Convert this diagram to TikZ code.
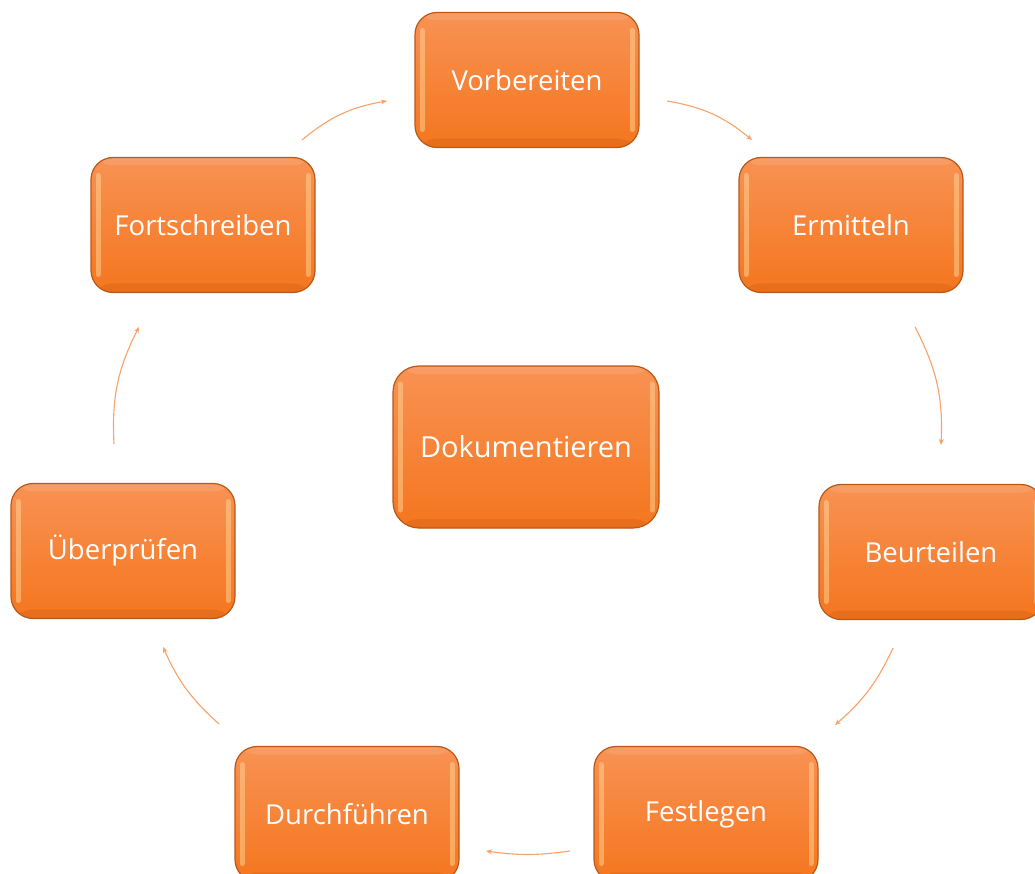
\documentclass[tikz,border=0pt]{standalone}
\usepackage{fontspec}
\setmainfont{Open Sans}
\usetikzlibrary{calc,arrows.meta}
\definecolor{orTop}{RGB}{248,146,84}
\definecolor{orBot}{RGB}{245,118,30}
\definecolor{orBorder}{RGB}{185,88,25}
\definecolor{orHl}{RGB}{255,214,150}
\definecolor{orDark}{RGB}{200,90,20}
\definecolor{arrowOr}{RGB}{247,162,104}
\begin{document}
\begin{tikzpicture}[x=1pt,y=-1pt,
  box/.style={rectangle, rounded corners=22pt, minimum width=224pt, minimum height=135pt,
    top color=orTop, bottom color=orBot, draw=orBorder, line width=1.2pt,
    text=white, font=\fontsize{27.5}{30}\selectfont, inner sep=0pt,
    path picture={
      \draw[orHl, line width=5pt, opacity=0.5, line cap=round]
        ([xshift=7pt,yshift=-18pt]path picture bounding box.north west) --
        ([xshift=7pt,yshift=18pt]path picture bounding box.south west);
      \draw[orHl, line width=5pt, opacity=0.5, line cap=round]
        ([xshift=-7pt,yshift=-18pt]path picture bounding box.north east) --
        ([xshift=-7pt,yshift=18pt]path picture bounding box.south east);
      \fill[orDark, opacity=0.3]
        ([yshift=9pt]path picture bounding box.south west) rectangle
        (path picture bounding box.south east);
      \fill[white, opacity=0.1]
        (path picture bounding box.north west) rectangle
        ([yshift=-8pt]path picture bounding box.north east);
    }},
  arr/.style={draw=arrowOr, line width=1.1pt, -{Stealth[length=6pt,width=5pt]}}]
\clip (0,0) rectangle (1035,874);
\fill[white] (0,0) rectangle (1035,874);

\node[box] (vor) at (527,80) {Vorbereiten};
\node[box] (erm) at (851,225) {Ermitteln};
\node[box] (beu) at (931,552) {Beurteilen};
\node[box] (fest) at (706,814) {Festlegen};
\node[box] (durch) at (347,814) {Durchführen};
\node[box] (ueb) at (123,551) {Überprüfen};
\node[box] (fort) at (203,225) {Fortschreiben};
\node[box, minimum width=266pt, minimum height=162pt, rounded corners=26pt,
  font=\fontsize{29}{32}\selectfont] (dok) at (526,447) {Dokumentieren};

\draw[arr] ($(fort)+(99,-85)$) to[bend left=15] ($(vor)+(-140,21)$);
\draw[arr] ($(vor)+(140,21)$) to[bend left=15] ($(erm)+(-99,-85)$);
\draw[arr] ($(erm)+(64,102)$) to[bend left=15] ($(beu)+(10,-107)$);
\draw[arr] ($(beu)+(-38,96)$) to[bend left=12] ($(fest)+(129,-89)$);
\draw[arr] ($(fest)+(-136,37)$) to[bend left=8] ($(durch)+(139,37)$);
\draw[arr] ($(durch)+(-128,-90)$) to[bend left=12] ($(ueb)+(40,96)$);
\draw[arr] ($(ueb)+(-9,-107)$) to[bend left=15] ($(fort)+(-64,102)$);
\end{tikzpicture}
\end{document}
